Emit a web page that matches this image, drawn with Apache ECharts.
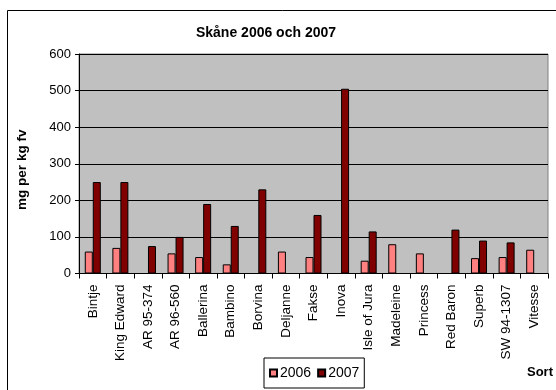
<!DOCTYPE html>
<html>
<head>
<meta charset="utf-8">
<script src="https://cdn.jsdelivr.net/npm/echarts@6/dist/echarts.min.js"></script>
<style>
  html, body { margin: 0; padding: 0; background: #fff; }
  #chart { width: 556px; height: 390px; }
</style>
</head>
<body>
<div id="chart"></div>
<script>
// Potato varieties (Sort) and measured content, mg per kg fv
const varieties = ['Bintje', 'King Edward', 'AR 95-374', 'AR 96-560', 'Ballerina', 'Bambino',
  'Borvina', 'Deljanne', 'Fakse', 'Inova', 'Isle of Jura', 'Madeleine', 'Princess',
  'Red Baron', 'Superb', 'SW 94-1307', 'Vitesse'];
const values2006 = [60, 70, null, 55, 45, 25, null, 60, 45, null, 35, 80, 55, null, 42, 45, 65];
const values2007 = [250, 250, 75, 100, 190, 130, 230, null, 160, 505, 115, null, null, 120, 90, 85, null];
const yTicks = [0, 100, 200, 300, 400, 500, 600];

const font = 'Arial, "Liberation Sans", sans-serif';

const chart = echarts.init(document.getElementById('chart'), null, { renderer: 'canvas' });

chart.setOption({
  animation: false,
  backgroundColor: '#ffffff',
  title: {
    text: 'Skåne 2006 och 2007',
    left: 266,
    top: 26,
    textAlign: 'center',
    padding: 0,
    textStyle: { fontFamily: font, fontSize: 14, fontWeight: 'bold', color: '#000' }
  },
  legend: {
    left: 264,
    top: 358,
    orient: 'horizontal',
    itemWidth: 7,
    itemHeight: 7,
    itemGap: 6,
    padding: [8, 5, 8, 5],
    borderColor: '#000',
    borderWidth: 1,
    backgroundColor: '#fff',
    icon: 'rect',
    textStyle: { fontFamily: font, fontSize: 14, color: '#000', padding: [0, 0, 0, -2] },
    data: ['2006', '2007']
  },
  graphic: [{
    type: 'rect',
    shape: { x: 7.5, y: 10.5, width: 600, height: 400 },
    style: { fill: 'none', stroke: '#000', lineWidth: 1 },
    silent: true,
    z: -1
  }],
  grid: {
    left: 79,
    top: 54,
    width: 473,
    height: 219.5,
    show: true,
    backgroundColor: '#C0C0C0',
    borderColor: '#808080',
    borderWidth: 1
  },
  xAxis: {
    type: 'category',
    data: varieties,
    name: 'Sort',
    nameLocation: 'end',
    nameGap: 5,
    nameTextStyle: {
      fontFamily: font, fontSize: 13, fontWeight: 'bold', color: '#000',
      align: 'right', verticalAlign: 'top', padding: [92, 0, 0, 0]
    },
    axisLine: { lineStyle: { color: '#000', width: 1 } },
    axisTick: { show: true, length: 5, lineStyle: { color: '#000' } },
    axisLabel: {
      rotate: 90,
      interval: 0,
      margin: 11,
      fontFamily: font,
      fontSize: 13.5,
      color: '#000'
    }
  },
  yAxis: {
    type: 'value',
    min: 0,
    max: 600,
    interval: 100,
    name: 'mg per kg fv',
    nameLocation: 'middle',
    nameRotate: 90,
    nameGap: 50,
    nameTextStyle: { fontFamily: font, fontSize: 13.5, fontWeight: 'bold', color: '#000', padding: [0, 12, 0, 0] },
    axisLine: { show: true, lineStyle: { color: '#000', width: 1 } },
    axisTick: { show: true, length: 4, lineStyle: { color: '#000' } },
    axisLabel: {
      margin: 8,
      fontFamily: font,
      fontSize: 13,
      color: '#000',
      formatter: function (v) { return yTicks.indexOf(v) >= 0 ? String(v) : ''; }
    },
    splitLine: { show: true, lineStyle: { color: '#000', width: 1 } }
  },
  series: [
    {
      name: '2006',
      type: 'bar',
      data: values2006,
      barWidth: 8,
      barGap: '0%',
      itemStyle: { color: '#FF8080', borderColor: '#000', borderWidth: 1 }
    },
    {
      name: '2007',
      type: 'bar',
      data: values2007,
      barWidth: 8,
      barGap: '0%',
      itemStyle: { color: '#800000', borderColor: '#000', borderWidth: 1 }
    }
  ]
});
</script>
</body>
</html>
